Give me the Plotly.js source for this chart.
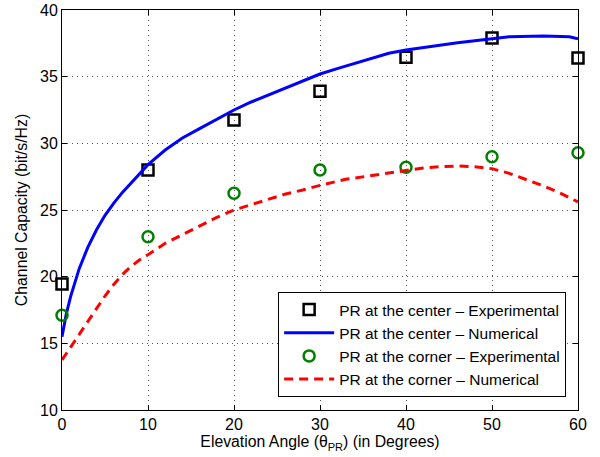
<!DOCTYPE html>
<html>
<head>
<meta charset="utf-8">
<script src="https://cdn.plot.ly/plotly-3.0.1.min.js"></script>
<style>html,body{margin:0;padding:0;background:#fff;}#chart{width:600px;height:457px;}</style>
</head>
<body>
<div id="chart"></div>
<script>
// Experimental points
const expAngles = [0, 10, 20, 30, 40, 50, 60];
const centerExp = [19.45, 28.0, 31.75, 33.9, 36.45, 37.9, 36.4];
const cornerExp = [17.1, 23.0, 26.25, 28.0, 28.2, 29.0, 29.3];

// Numerical curves
const centerNumX = [0, 0.5, 1, 1.5, 2, 3, 4, 5, 6, 7, 8, 9, 10, 12, 14, 16, 18, 20, 22, 25, 28, 30, 32, 34, 36, 38, 40, 42, 44, 46, 48, 50, 52, 56, 59, 60];
const centerNumY = [15.5, 17.2, 18.5, 19.6, 20.6, 22.2, 23.5, 24.6, 25.5, 26.3, 27.0, 27.7, 28.4, 29.5, 30.4, 31.1, 31.8, 32.5, 33.1, 33.9, 34.7, 35.2, 35.6, 36.0, 36.4, 36.75, 37.0, 37.2, 37.4, 37.55, 37.7, 37.85, 38.0, 38.05, 38.0, 37.85];
const cornerNumX = [0, 1, 2, 3, 4, 5, 6, 7, 8, 9, 10, 12, 14, 16, 18, 20, 22, 24, 26, 28, 30, 33, 36, 38, 40, 42, 44, 46, 48, 50, 52, 54, 56, 58, 60];
const cornerNumY = [13.75, 14.7, 15.65, 16.6, 17.6, 18.55, 19.4, 20.15, 20.75, 21.25, 21.65, 22.5, 23.15, 23.8, 24.45, 25.0, 25.4, 25.85, 26.2, 26.5, 26.85, 27.3, 27.6, 27.8, 28.0, 28.15, 28.25, 28.3, 28.25, 28.1, 27.75, 27.3, 26.8, 26.25, 25.6];

const xTicks = [0, 10, 20, 30, 40, 50, 60];
const yTicks = [10, 15, 20, 25, 30, 35, 40];

const font = 'Liberation Sans, Arial, Helvetica, sans-serif';

const traces = [
  {x: expAngles, y: centerExp, mode: 'markers', name: 'PR at the center \u2013 Experimental',
   marker: {symbol: 'square-open', size: 11, color: '#000', line: {width: 2.5, color: '#000'}}, cliponaxis: false},
  {x: centerNumX, y: centerNumY, mode: 'lines', name: 'PR at the center \u2013 Numerical',
   line: {color: '#0000ff', width: 3}, cliponaxis: false},
  {x: expAngles, y: cornerExp, mode: 'markers', name: 'PR at the corner \u2013 Experimental',
   marker: {symbol: 'circle-open', size: 11, color: '#008000', line: {width: 2.5, color: '#008000'}}, cliponaxis: false},
  {x: cornerNumX, y: cornerNumY, mode: 'lines', name: 'PR at the corner \u2013 Numerical',
   line: {color: '#ff0000', width: 3, dash: '9px,6px'}, cliponaxis: false}
];

const axisCommon = {
  showline: true, linecolor: '#000', linewidth: 1, mirror: 'ticks',
  ticks: 'inside', ticklen: 5, tickcolor: '#000',
  showgrid: true, gridcolor: '#555', griddash: '1px,4px', gridwidth: 1,
  zeroline: false, tickfont: {family: font, size: 16, color: '#000'}
};

const layout = {
  width: 600, height: 457,
  margin: {l: 62, r: 22, t: 10, b: 47},
  paper_bgcolor: '#fff', plot_bgcolor: '#fff',
  font: {family: font, color: '#000'},
  showlegend: true,
  xaxis: Object.assign({}, axisCommon, {
    range: [0, 60], tickvals: xTicks, ticktext: xTicks.map(String),
    title: {text: 'Elevation Angle (\u03B8<sub>PR</sub>) (in Degrees)', font: {family: font, size: 15.8}, standoff: 2}
  }),
  yaxis: Object.assign({}, axisCommon, {
    range: [10, 40], tickvals: yTicks, ticktext: yTicks.map(String),
    title: {text: 'Channel Capacity (bit/s/Hz)', font: {family: font, size: 15.8}, standoff: 8}
  }),
  legend: {
    x: 0.977, y: 0.295, xanchor: 'right', yanchor: 'top',
    bgcolor: '#fff', bordercolor: '#000', borderwidth: 1,
    font: {family: font, size: 15.5, color: '#000'},
    tracegroupgap: 0, itemwidth: 50
  }
};

Plotly.newPlot('chart', traces, layout, {displayModeBar: false, staticPlot: true});
</script>
</body>
</html>
